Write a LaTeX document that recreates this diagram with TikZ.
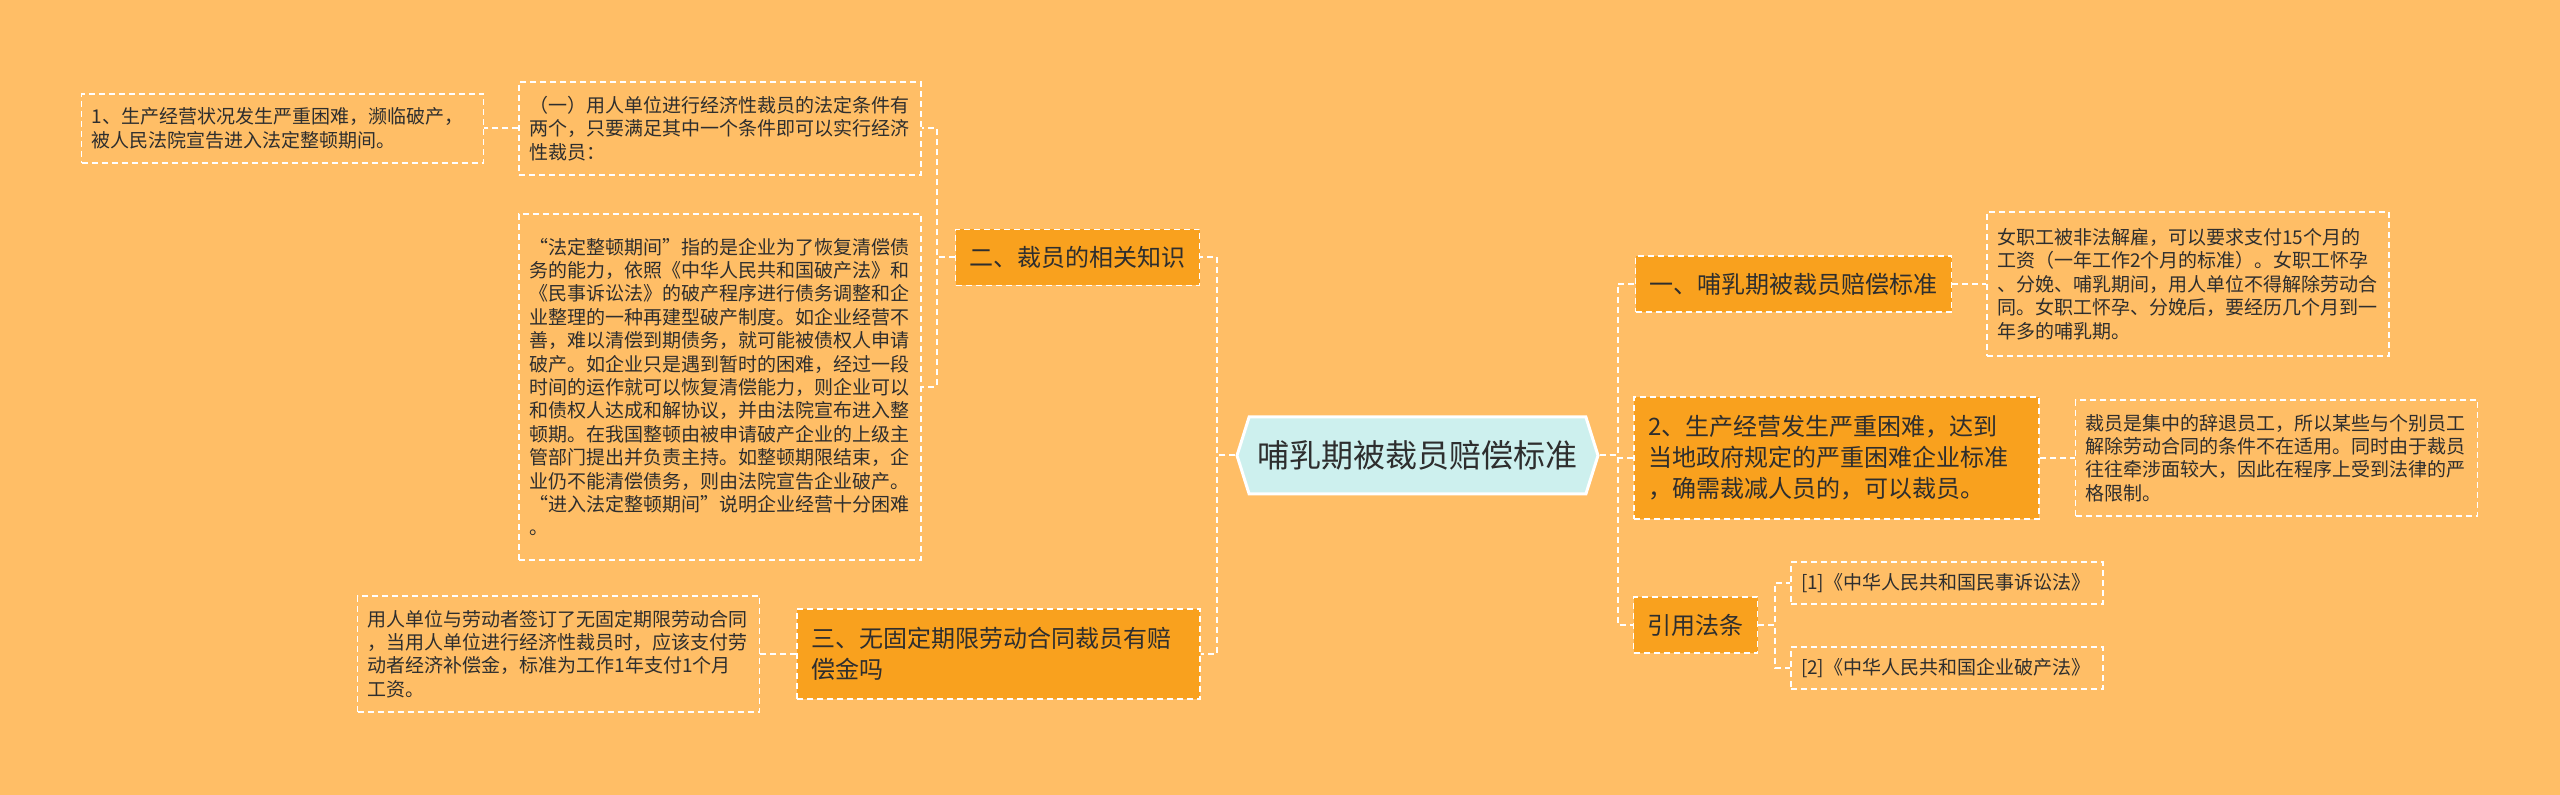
\documentclass[tikz,border=0pt]{standalone}
\usepackage{fontspec}
\usepackage{tikz}
\usetikzlibrary{positioning,shapes.symbols}
\newfontfamily\cjk{Noto Sans CJK SC}
\definecolor{MapBack}{HTML}{FFBE66}
\definecolor{MapBranch}{HTML}{F9A11E}
\definecolor{MapRoot}{HTML}{CDF0EE}
\definecolor{MapText}{HTML}{2E2E2E}

\begin{document}
\begin{tikzpicture}[x=0.5pt, y=-0.5pt, font=\cjk, text=MapText,
  rt/.style={signal, signal to=west and east, signal pointer angle=145, draw=white,
             line width=1.5pt, fill=MapRoot, minimum width=180.5pt, minimum height=38.5pt,
             font=\cjk\fontsize{16pt}{19pt}\selectfont},
  br/.style={draw=white, dash pattern=on 3pt off 2pt, line width=0.8pt, fill=MapBranch,
             align=left, inner xsep=7pt, minimum height=28pt,
             font=\cjk\fontsize{12pt}{15.5pt}\selectfont},
  lf/.style={draw=white, dash pattern=on 3pt off 2pt, line width=0.7pt, align=left,
             inner xsep=5pt, text width=191pt, font=\cjk\fontsize{9.5pt}{11.7pt}\selectfont},
  cn/.style={draw=white, dash pattern=on 3pt off 2pt, line width=1pt}]
\fill[MapBack] (0,0) rectangle (2560,795);
\useasboundingbox (0,0) rectangle (2560,795);

\node[rt] (root) at (1417.5,455.5) {哺乳期被裁员赔偿标准};

% left side
\node[br] (b2) at (1077.5,257.5) {二、裁员的相关知识};
\node[br, text width=187.5pt, minimum height=45pt] (b3) at (998.5,654)
  {三、无固定期限劳动合同裁员有赔\\偿金吗};
\node[lf, minimum height=46.5pt] (n1) at (720,128.5)
  {（一）用人单位进行经济性裁员的法定条件有\\两个，只要满足其中一个条件即可以实行经济\\性裁员：};
\node[lf, left=17pt of n1, minimum height=34.5pt] (n11)
  {1、生产经营状况发生严重困难，濒临破产，\\被人民法院宣告进入法定整顿期间。};
\node[lf, minimum height=173pt] (n2) at (720,387)
  {“法定整顿期间”指的是企业为了恢复清偿债\\务的能力，依照《中华人民共和国破产法》和\\《民事诉讼法》的破产程序进行债务调整和企\\业整理的一种再建型破产制度。如企业经营不\\善，难以清偿到期债务，就可能被债权人申请\\破产。如企业只是遇到暂时的困难，经过一段\\时间的运作就可以恢复清偿能力，则企业可以\\和债权人达成和解协议，并由法院宣布进入整\\顿期。在我国整顿由被申请破产企业的上级主\\管部门提出并负责主持。如整顿期限结束，企\\业仍不能清偿债务，则由法院宣告企业破产。\\“进入法定整顿期间”说明企业经营十分困难\\。};
\node[lf, left=18pt of b3, minimum height=58pt] (n3)
  {用人单位与劳动者签订了无固定期限劳动合同\\，当用人单位进行经济性裁员时，应该支付劳\\动者经济补偿金，标准为工作1年支付1个月\\工资。};

% right side
\node[br] (b1) at (1793.5,284) {一、哺乳期被裁员赔偿标准};
\node[lf, right=17pt of b1, minimum height=72pt] (l1)
  {女职工被非法解雇，可以要求支付15个月的\\工资（一年工作2个月的标准）。女职工怀孕\\、分娩、哺乳期间，用人单位不得解除劳动合\\同。女职工怀孕、分娩后，要经历几个月到一\\年多的哺乳期。};
\node[br, text width=188.5pt, minimum height=61pt] (b4) at (1836.5,458)
  {2、生产经营发生严重困难，达到\\当地政府规定的严重困难企业标准\\，确需裁减人员的，可以裁员。};
\node[lf, right=17.5pt of b4, minimum height=58pt] (l4)
  {裁员是集中的辞退员工，所以某些与个别员工\\解除劳动合同的条件不在适用。同时由于裁员\\往往牵涉面较大，因此在程序上受到法律的严\\格限制。};
\node[br] (b5) at (1695.5,625) {引用法条};
\node[lf, text width=146pt, minimum height=21pt] (r1) at (1947,583)
  {[1]《中华人民共和国民事诉讼法》};
\node[lf, text width=146pt, minimum height=21pt] (r2) at (1947,668)
  {[2]《中华人民共和国企业破产法》};

% connectors
\foreach \k in {b1,b4,b5} \draw[cn] (root.east) -- ++(18,0) |- (\k.west);
\foreach \k in {b2,b3} \draw[cn] (root.west) -- ++(-18,0) |- (\k.east);
\foreach \k in {n1,n2} \draw[cn] (b2.west) -- ++(-18,0) |- (\k.east);
\foreach \k in {r1,r2} \draw[cn] (b5.east) -- ++(17,0) |- (\k.west);
\draw[cn] (n1.west) -- (n11.east);
\draw[cn] (b3.west) -- (n3.east);
\draw[cn] (b1.east) -- (l1.west);
\draw[cn] (b4.east) -- (l4.west);
\end{tikzpicture}
\end{document}
